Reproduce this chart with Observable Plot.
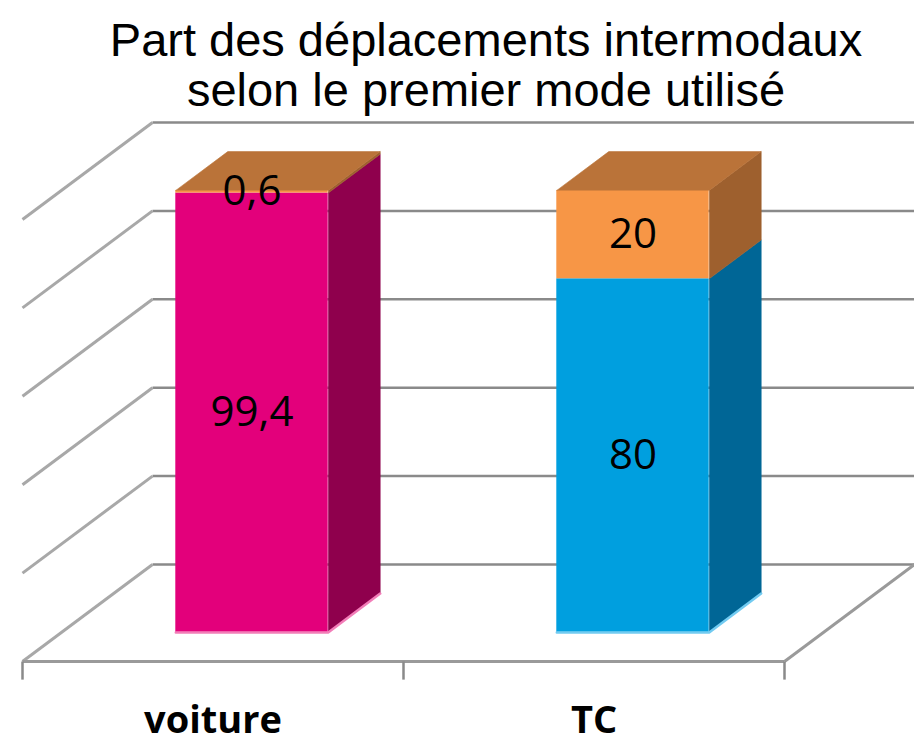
<!DOCTYPE html>
<html>
<head>
<meta charset="utf-8">
<script src="https://cdn.jsdelivr.net/npm/d3@7"></script>
<script src="https://cdn.jsdelivr.net/npm/@observablehq/plot@0.6"></script>
<style>
  html, body { margin: 0; padding: 0; background: #fff; }
  #title {
    width: 914px; height: 113px; box-sizing: border-box;
    padding-top: 15px; padding-left: 58px;
    font-family: "Liberation Sans", Arial, sans-serif;
    font-size: 47px; line-height: 50px; text-align: center; color: #000;
    overflow: visible;
  }
  #chart svg { display: block; }
</style>
</head>
<body>
<div id="title">Part des déplacements intermodaux<br>selon le premier mode utilisé</div>
<div id="chart"></div>
<script>
// ---- data ----
const categories = ["voiture", "TC"];
const premierMode = [99.4, 80];   // bottom segment
const autreMode = [0.6, 20];      // top segment
const yTicks = [0, 20, 40, 60, 80, 100];

// ---- styles / layout constants ----
const baseFront = ["#E3007B", "#009FDF"];
const baseSide = ["#8F004D", "#006696"];
const baseEdge = ["#F27DB8", "#72CBF1"];
const orangeFront = "#F79646", orangeSide = "#9E602E", orangeTop = "#BA7339";
const DU = -130 / 381, DV = -97 / 4.42;     // full depth offset in data units
const FRONT = 0.70, BACK = 0.30, HALF = 0.2;
const P = (u, v, d) => ({x: u + d * DU, y: v + d * DV});

// segments
const segments = [];
categories.forEach((c, i) => {
  const ctr = i + 0.5;
  segments.push({i, ctr, v0: 0, v1: premierMode[i], value: premierMode[i], front: baseFront[i], side: baseSide[i]});
  segments.push({i, ctr, v0: premierMode[i], v1: premierMode[i] + autreMode[i], value: autreMode[i], front: orangeFront, side: orangeSide});
});

// grid links
const backLines = yTicks.map(t => ({x1: 0, y1: t, x2: 2, y2: t}));
const wallDiag = yTicks.map(t => { const a = P(0, t, 0), b = P(0, t, 1); return {x1: a.x, y1: a.y, x2: b.x, y2: b.y}; });
const floorLines = [[P(0,0,1), P(2,0,1)], [P(2,0,0), P(2,0,1)]].map(([a,b]) => ({x1: a.x, y1: a.y, x2: b.x, y2: b.y}));
const tickLines = [0, 1, 2].map(k => { const a = P(k, 0, 1), b = P(k, -4.1, 1); return {x1: a.x, y1: a.y, x2: b.x, y2: b.y}; });

const marks = [];
marks.push(Plot.link(backLines, {x1: "x1", y1: "y1", x2: "x2", y2: "y2", stroke: "#8A8A8A", strokeWidth: 2.5}));
marks.push(Plot.link(wallDiag, {x1: "x1", y1: "y1", x2: "x2", y2: "y2", stroke: "#A8A8A8", strokeWidth: 3}));
marks.push(Plot.link(floorLines, {x1: "x1", y1: "y1", x2: "x2", y2: "y2", stroke: "#9A9A9A", strokeWidth: 3}));
marks.push(Plot.link(tickLines, {x1: "x1", y1: "y1", x2: "x2", y2: "y2", stroke: "#8A8A8A", strokeWidth: 2.5}));

// bars
segments.forEach(s => {
  const r = s.ctr + HALF, l = s.ctr - HALF;
  const side = [P(r, s.v0, FRONT), P(r, s.v0, BACK), P(r, s.v1, BACK), P(r, s.v1, FRONT)];
  marks.push(Plot.line(side, {x: "x", y: "y", fill: s.side, stroke: s.side, strokeWidth: 0.6}));
  const f0 = P(l, s.v0, FRONT), f1 = P(r, s.v1, FRONT);
  marks.push(Plot.rect([s], {x1: () => f0.x, x2: () => f1.x, y1: () => f0.y, y2: () => f1.y, fill: s.front}));
});
// top faces
categories.forEach((c, i) => {
  const top = premierMode[i] + autreMode[i], ctr = i + 0.5;
  const face = [P(ctr - HALF, top, FRONT), P(ctr - HALF, top, BACK), P(ctr + HALF, top, BACK), P(ctr + HALF, top, FRONT)];
  marks.push(Plot.line(face, {x: "x", y: "y", fill: orangeTop, stroke: orangeTop, strokeWidth: 0.6}));
  // bottom edge highlight
  const edge = [P(ctr - HALF, 0, FRONT), P(ctr + HALF, 0, FRONT), P(ctr + HALF, 0, BACK)];
  marks.push(Plot.line(edge, {x: "x", y: "y", stroke: baseEdge[i], strokeWidth: 2.5}));
});

// value labels
const fmt = v => String(v).replace(".", ",");
marks.push(Plot.text(segments, {
  x: s => P(s.ctr, (s.v0 + s.v1) / 2, FRONT).x,
  y: s => P(s.ctr, (s.v0 + s.v1) / 2, FRONT).y,
  text: s => fmt(s.value), fontSize: 42, fontFamily: "Open Sans", fill: "#000"
}));
// category labels
marks.push(Plot.text(categories, {
  x: (c, i) => P(i + 0.5, 0, 1).x, y: (c, i) => P(i + 0.5, 0, 1).y,
  text: d => d, dy: 71, lineAnchor: "bottom", fontSize: 38, fontWeight: "bold", fontFamily: "Open Sans", fill: "#000"
}));

const chart = Plot.plot({
  width: 914, height: 631,
  marginLeft: 152, marginRight: 0, marginTop: 9, marginBottom: 180,
  x: {domain: [0, 2], axis: null},
  y: {domain: [0, 100], axis: null},
  style: {fontFamily: "Open Sans", background: "#fff"},
  marks
});
document.getElementById("chart").appendChild(chart);
</script>
</body>
</html>
